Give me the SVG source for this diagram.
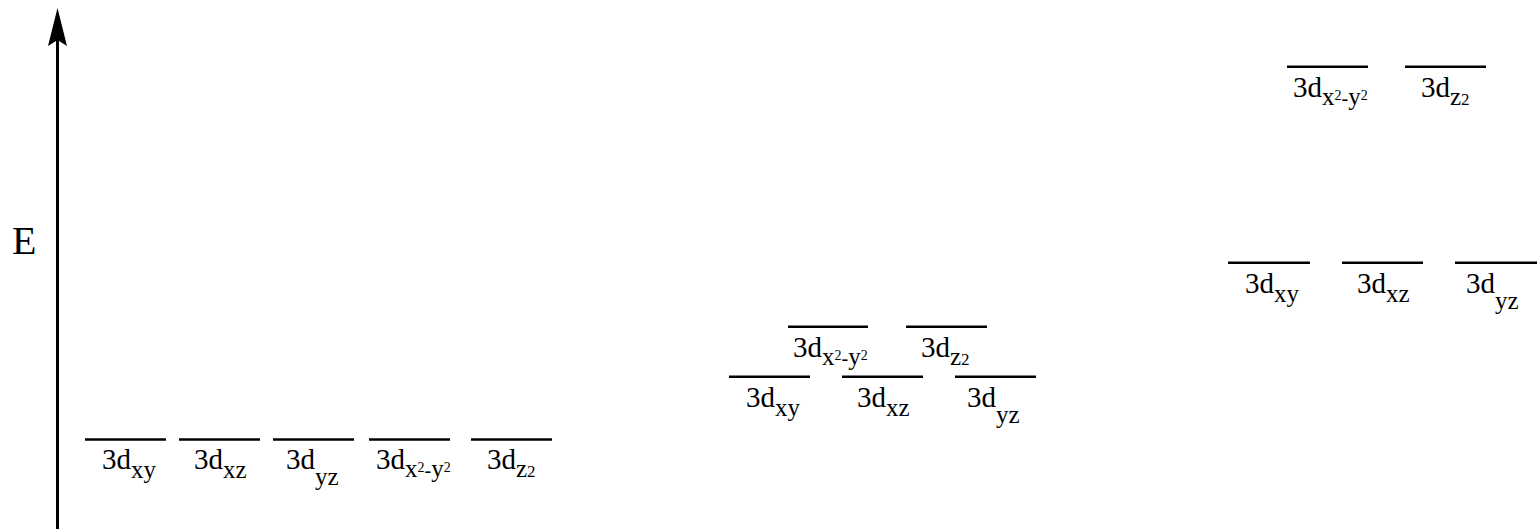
<svg xmlns="http://www.w3.org/2000/svg" width="1537" height="529" viewBox="0 0 1537 529">
<style>
.lv{stroke:#000;stroke-width:2.5;fill:none}
text{font-family:"Liberation Serif","Times New Roman",serif;fill:#000}
.m{font-size:29px}
.s{font-size:25px}
.s2{font-size:14px}
.s3{font-size:17px}
.sm{font-size:20px}
</style>
<rect width="1537" height="529" fill="#fff"/>
<g id="axis">
<line x1="57.5" y1="40" x2="57.5" y2="529" stroke="#000" stroke-width="3"/>
<path d="M57.5,8 L67,46 L57.5,40 L48,46 Z" fill="#000"/>
<text x="12" y="254" style="font-size:40px">E</text>
</g>
<!-- free ion -->
<g id="free-xy"><line class="lv" x1="85" y1="439.5" x2="166" y2="439.5"/><text class="m" x="102" y="469">3d<tspan class="s" dy="9">xy</tspan></text></g>
<g id="free-xz"><line class="lv" x1="179" y1="439.5" x2="260" y2="439.5"/><text class="m" x="194" y="469">3d<tspan class="s" dy="9">xz</tspan></text></g>
<g id="free-yz"><line class="lv" x1="273" y1="439.5" x2="354" y2="439.5"/><text class="m" x="286" y="469">3d<tspan class="s" dy="16">yz</tspan></text></g>
<g id="free-x2y2"><line class="lv" x1="369" y1="439.5" x2="450" y2="439.5"/><text class="m" x="376" y="469">3d<tspan class="s" dy="8">x</tspan><tspan class="s2" dy="-5">2</tspan><tspan class="sm" dy="5">-</tspan><tspan class="s">y</tspan><tspan class="s2" dy="-5">2</tspan></text></g>
<g id="free-z2"><line class="lv" x1="471" y1="439.5" x2="552" y2="439.5"/><text class="m" x="487" y="469">3d<tspan class="s" dy="8">z</tspan><tspan class="s3">2</tspan></text></g>
<!-- spherical field -->
<g id="sph-x2y2"><line class="lv" x1="788" y1="326.7" x2="868" y2="326.7"/><text class="m" x="793" y="357">3d<tspan class="s" dy="8">x</tspan><tspan class="s2" dy="-5">2</tspan><tspan class="sm" dy="5">-</tspan><tspan class="s">y</tspan><tspan class="s2" dy="-5">2</tspan></text></g>
<g id="sph-z2"><line class="lv" x1="906" y1="326.7" x2="987" y2="326.7"/><text class="m" x="921" y="357">3d<tspan class="s" dy="8">z</tspan><tspan class="s3">2</tspan></text></g>
<g id="sph-xy"><line class="lv" x1="729" y1="376.7" x2="810" y2="376.7"/><text class="m" x="746" y="407">3d<tspan class="s" dy="9">xy</tspan></text></g>
<g id="sph-xz"><line class="lv" x1="842" y1="376.7" x2="923" y2="376.7"/><text class="m" x="857" y="407">3d<tspan class="s" dy="9">xz</tspan></text></g>
<g id="sph-yz"><line class="lv" x1="955" y1="376.7" x2="1036" y2="376.7"/><text class="m" x="967" y="407">3d<tspan class="s" dy="16">yz</tspan></text></g>
<!-- octahedral field -->
<g id="oct-x2y2"><line class="lv" x1="1287" y1="66.7" x2="1368" y2="66.7"/><text class="m" x="1293" y="97">3d<tspan class="s" dy="8">x</tspan><tspan class="s2" dy="-5">2</tspan><tspan class="sm" dy="5">-</tspan><tspan class="s">y</tspan><tspan class="s2" dy="-5">2</tspan></text></g>
<g id="oct-z2"><line class="lv" x1="1405" y1="66.7" x2="1486" y2="66.7"/><text class="m" x="1421" y="97">3d<tspan class="s" dy="8">z</tspan><tspan class="s3">2</tspan></text></g>
<g id="oct-xy"><line class="lv" x1="1228" y1="262.7" x2="1310" y2="262.7"/><text class="m" x="1245" y="293">3d<tspan class="s" dy="9">xy</tspan></text></g>
<g id="oct-xz"><line class="lv" x1="1342" y1="262.7" x2="1423" y2="262.7"/><text class="m" x="1357" y="293">3d<tspan class="s" dy="9">xz</tspan></text></g>
<g id="oct-yz"><line class="lv" x1="1455" y1="262.7" x2="1537" y2="262.7"/><text class="m" x="1466" y="293">3d<tspan class="s" dy="16">yz</tspan></text></g>
<g id="connectors"/>
</svg>
